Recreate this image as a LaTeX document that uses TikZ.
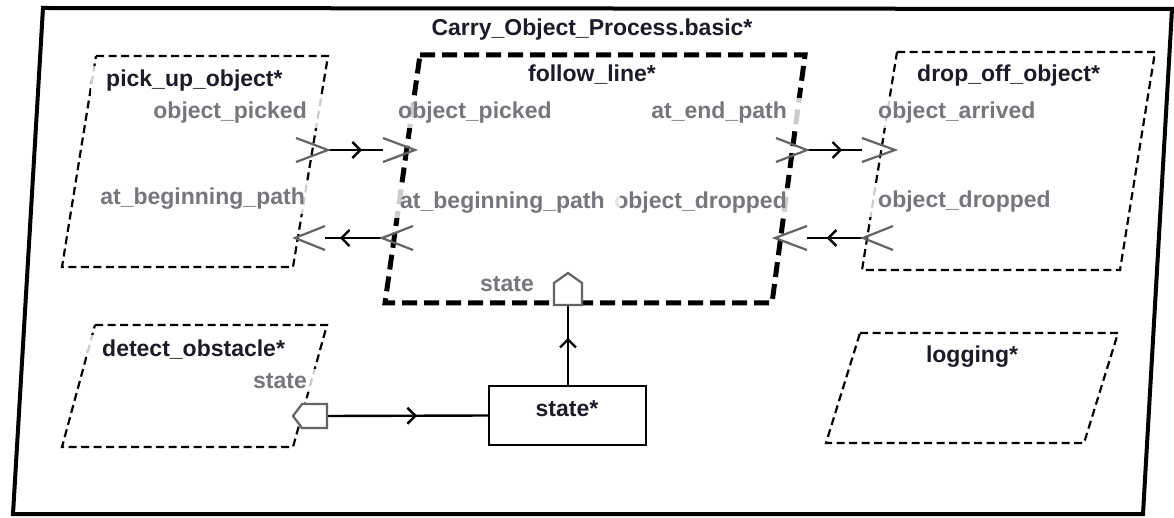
\documentclass[tikz,border=0pt]{standalone}
\usepackage{fontspec}
\setmainfont{Liberation Sans}
\usetikzlibrary{arrows.meta,decorations.markings}
\definecolor{namecol}{RGB}{28,28,40}
\definecolor{labelgray}{RGB}{118,118,124}
\definecolor{portgray}{RGB}{100,100,100}
\begin{document}
\begin{tikzpicture}[x=1pt,y=-1pt,
  frame/.style={draw=black, line width=4pt, line join=miter},
  comp/.style={draw=black, line width=2.2pt, dash pattern=on 8pt off 4.5pt},
  compthick/.style={draw=black, line width=5pt, dash pattern=on 15pt off 7pt},
  portglyph/.style={draw=portgray, line width=2.2pt, line join=miter},
  conn/.style={draw=black, line width=2.4pt, postaction={decorate},
    decoration={markings, mark=at position #1 with {\arrow{Straight Barb[length=8pt,width=16pt]}}}},
  conn/.default=0.62,
  txtbase/.style={font=\bfseries\fontsize{23}{27}\selectfont, inner ysep=4pt, inner xsep=0pt,
    fill=white, fill opacity=0.8, text opacity=1},
  compname/.style={txtbase, text=namecol},
  portlabel/.style={txtbase, text=labelgray},
  boxL/.style={anchor=base west, inner xsep=15pt, xshift=-15pt},
  boxR/.style={anchor=base east, inner xsep=15pt, xshift=15pt},
  boxC/.style={anchor=base, inner xsep=15pt},
  blockbox/.style={draw=black, line width=2.2pt, fill=white, minimum width=157pt, minimum height=59pt, inner sep=0pt}
]
\useasboundingbox (0,0) rectangle (1174,518);
\fill[white] (0,0) rectangle (1174,518);

% outer frame
\draw[frame] (43,8) -- (1172,9) -- (1143,514) -- (13,514) -- cycle;

% components
\draw[comp] (96,56) -- (328,56) -- (293,267) -- (62,267) -- cycle;
\draw[compthick] (420,55) -- (805,55) -- (772,303) -- (385,303) -- cycle;
\draw[comp] (897,52) -- (1155,52) -- (1120,270) -- (862,270) -- cycle;
\draw[comp] (95,325) -- (327,325) -- (293,447) -- (62,447) -- cycle;
\draw[comp] (860,333) -- (1118,333) -- (1084,443) -- (826,443) -- cycle;

\node[blockbox] (state) at (567.5,415.5) {};

% port coordinates
\coordinate (puout) at (328,150);
\coordinate (flin) at (383,150);
\coordinate (flout) at (382,238);
\coordinate (puin) at (325,238);
\coordinate (flout2) at (807,150);
\coordinate (doin) at (862,150);
\coordinate (doout) at (863,238);
\coordinate (flin2) at (807,238);
\coordinate (flstate) at (568,305);
\coordinate (dostate) at (327,416);

% texts (drawn before port glyphs so that glyphs stay crisp)
\node[compname, boxC] (title) at (592,36) {Carry\_Object\_Process.basic*};
\node[compname, boxL] (puname) at (106,87) {pick\_up\_object*};
\node[portlabel, boxR] (pul1) at (307,119) {object\_picked};
\node[portlabel, boxR] (pul2) at (305,205) {at\_beginning\_path};
\node[compname, boxC] (flname) at (592,82) {follow\_line*};
\node[portlabel, boxL] (fll1) at (398,119) {object\_picked};
\node[portlabel, boxR] (fll2) at (787,119) {at\_end\_path};
\node[portlabel, boxR] (fll4) at (787,209) {object\_dropped};
\node[portlabel, boxL] (fll3) at (400,209) {at\_beginning\_path};
\node[portlabel, boxC] (fll5) at (507,292) {state};
\node[compname, boxL] (doname) at (917,82) {drop\_off\_object*};
\node[portlabel, boxL] (dol1) at (878,119) {object\_arrived};
\node[portlabel, boxL] (dol2) at (878,208) {object\_dropped};
\node[compname, boxL] (dtname) at (102,356) {detect\_obstacle*};
\node[portlabel, boxR] (dtl1) at (307,388) {state};
\node[compname, boxC] (lgname) at (972,362) {logging*};
\node[compname, anchor=base, fill=none] (stname) at (567,416) {state*};

% connectors
\draw[conn=0.62] (puout) -- (flin);
\draw[conn=0.74] (flout) -- (puin);
\draw[conn=0.64] (flout2) -- (doin);
\draw[conn=0.65] (doout) -- (flin2);
\draw[conn=0.56] (dostate) -- (state.west);
\draw[conn=0.59] (state.north -| flstate) -- (flstate);

% port glyphs
\draw[portglyph] (296,138) -- (puout) -- (296,162);
\draw[portglyph] (flin |- 0,138) -- (415,150) -- (flin |- 0,162);
\draw[portglyph] (413,226) -- (flout) -- (413,250);
\draw[portglyph] (puin |- 0,226) -- (295,238) -- (puin |- 0,250);
\draw[portglyph] (776,138) -- (flout2) -- (776,162);
\draw[portglyph] (doin |- 0,138) -- (895,150) -- (doin |- 0,162);
\draw[portglyph] (893,226) -- (doout) -- (893,250);
\draw[portglyph] (flin2 |- 0,226) -- (775,238) -- (flin2 |- 0,250);
\draw[portglyph, fill=white] (554,305) -- (554,283) -- (568,273) -- (582,283) -- (582,305) -- cycle;
\draw[portglyph, fill=white] (dostate |- 0,404) -- (302,404) -- (293,416) -- (302,428) -- (dostate |- 0,428) -- cycle;
\end{tikzpicture}
\end{document}
